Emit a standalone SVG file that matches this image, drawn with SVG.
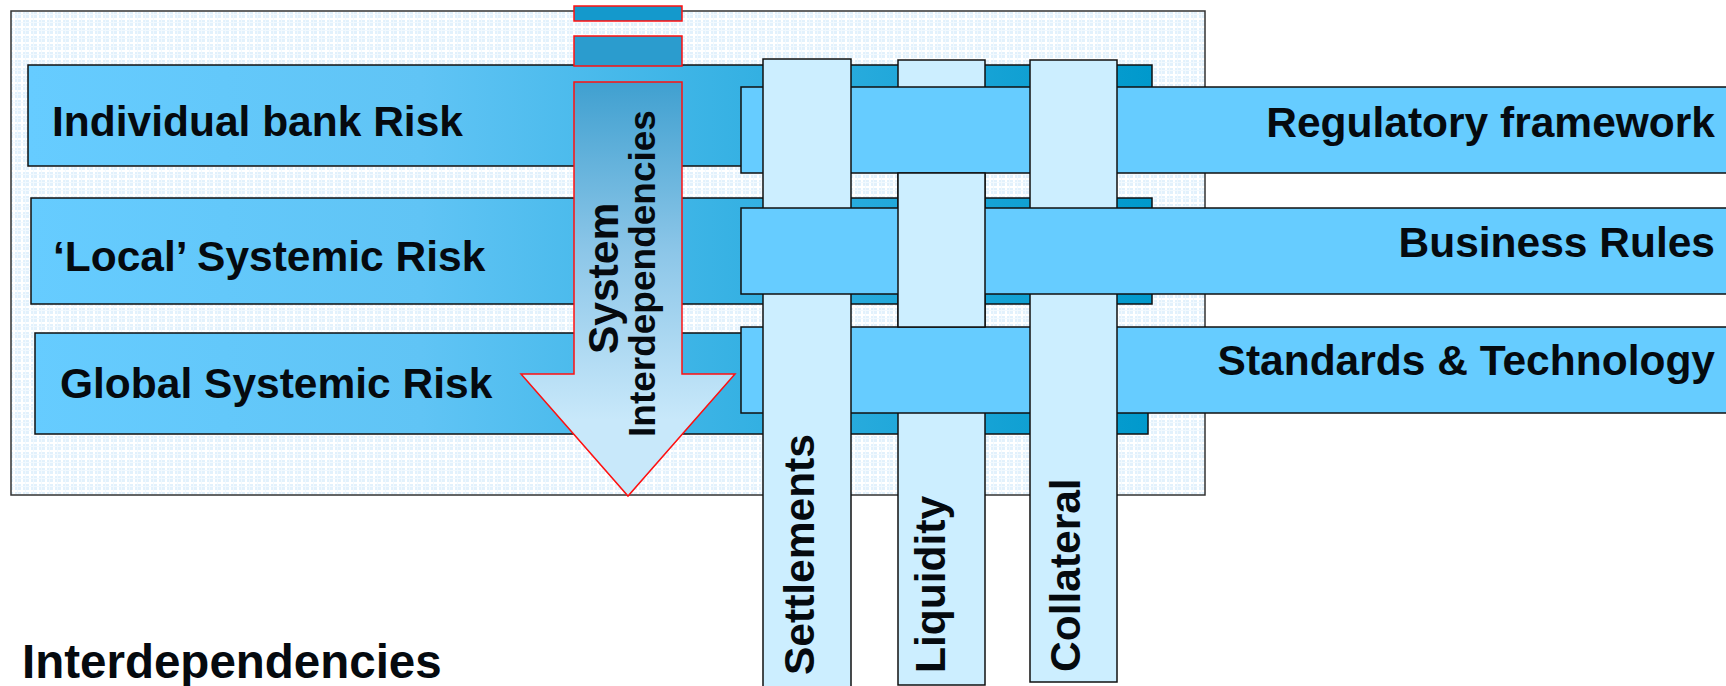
<svg xmlns="http://www.w3.org/2000/svg" width="1726" height="686" viewBox="0 0 1726 686">
<defs>
<pattern id="grid" x="0" y="0" width="8" height="8" patternUnits="userSpaceOnUse">
<rect width="8" height="8" fill="#e2f1fc"/>
<rect x="0" y="2" width="8" height="2" fill="#ffffff"/>
<rect x="5" y="0" width="2" height="8" fill="#ffffff"/>
<rect x="0" y="6" width="8" height="1" fill="#f2f9fe"/>
<rect x="1" y="0" width="1" height="8" fill="#f2f9fe"/>
</pattern>
<linearGradient id="leftGrad" gradientUnits="userSpaceOnUse" x1="28" y1="0" x2="1152" y2="0">
<stop offset="0" stop-color="#66ccff"/>
<stop offset="0.35" stop-color="#60c4f5"/>
<stop offset="1" stop-color="#0099cc"/>
</linearGradient>
<linearGradient id="arrowGrad" gradientUnits="userSpaceOnUse" x1="0" y1="82" x2="0" y2="420">
<stop offset="0" stop-color="#40a0d0"/>
<stop offset="0.5" stop-color="#8cc6e8"/>
<stop offset="1" stop-color="#c8e8fa"/>
</linearGradient>
<style>
.panel{fill:url(#grid);stroke:#333;stroke-width:1.5}
.lbar{fill:url(#leftGrad);stroke:#111;stroke-width:1.5}
.rbar{fill:#66ccff;stroke:#111;stroke-width:1.5}
.vbar{fill:#cceeff;stroke:#111;stroke-width:1.5}
.red{stroke:#ff1010;stroke-width:1.5}
.t{font-family:"Liberation Sans",Arial,Helvetica,sans-serif;font-weight:bold;fill:#050a0f}
.t42{font-size:42.5px}
</style>
</defs>
<rect width="1726" height="686" fill="#ffffff"/>
<g id="panel">
<rect class="panel" x="11" y="11" width="1194" height="484"/>
</g>
<g id="individual-bank-risk">
<rect class="lbar" x="28" y="65" width="1124" height="101"/>
<text class="t t42" x="52" y="136">Individual bank Risk</text>
</g>
<g id="local-systemic-risk">
<rect class="lbar" x="31" y="198" width="1121" height="106"/>
<text class="t t42" x="53" y="271">‘Local’ Systemic Risk</text>
</g>
<g id="global-systemic-risk">
<rect class="lbar" x="35" y="333" width="1113" height="101"/>
<text class="t t42" x="60" y="398">Global Systemic Risk</text>
</g>
<g id="system-interdependencies-arrow">
<rect class="red" x="574" y="6" width="108" height="15" fill="#1499cc"/>
<rect class="red" x="574" y="36" width="108" height="30" fill="#2b9cce"/>
<path class="red" d="M574,82 L682,82 L682,374 L735,374 L628,496 L521,374 L574,374 Z" fill="url(#arrowGrad)"/>
<text class="t" font-size="42.5" transform="translate(618,354) rotate(-90)">System</text>
<text class="t" font-size="37" transform="translate(655,437) rotate(-90)">Interdependencies</text>
</g>
<g id="liquidity">
<rect class="vbar" x="898" y="60" width="87" height="625"/>
<text class="t t42" transform="translate(945,673) rotate(-90)">Liquidity</text>
</g>
<g id="regulatory-framework">
<rect class="rbar" x="741" y="87" width="995" height="86"/>
<text class="t t42" x="1715" y="137" text-anchor="end">Regulatory framework</text>
</g>
<g id="standards-technology">
<rect class="rbar" x="741" y="327" width="995" height="86"/>
<text class="t t42" x="1715" y="375" text-anchor="end">Standards &amp; Technology</text>
</g>
<g id="settlements">
<rect class="vbar" x="763" y="59" width="88" height="640"/>
<text class="t t42" transform="translate(814,675) rotate(-90)">Settlements</text>
</g>
<g id="collateral">
<rect class="vbar" x="1030" y="60" width="87" height="622"/>
<text class="t t42" transform="translate(1080,672) rotate(-90)">Collateral</text>
</g>
<g id="business-rules">
<rect class="rbar" x="741" y="208" width="995" height="86"/>
<text class="t t42" x="1715" y="257" text-anchor="end">Business Rules</text>
</g>
<g id="liquidity-over-business-rules">
<rect class="vbar" x="898" y="173" width="87" height="154"/>
</g>
<g id="title">
<text class="t" font-size="47.5" x="22" y="678">Interdependencies</text>
</g>
</svg>
